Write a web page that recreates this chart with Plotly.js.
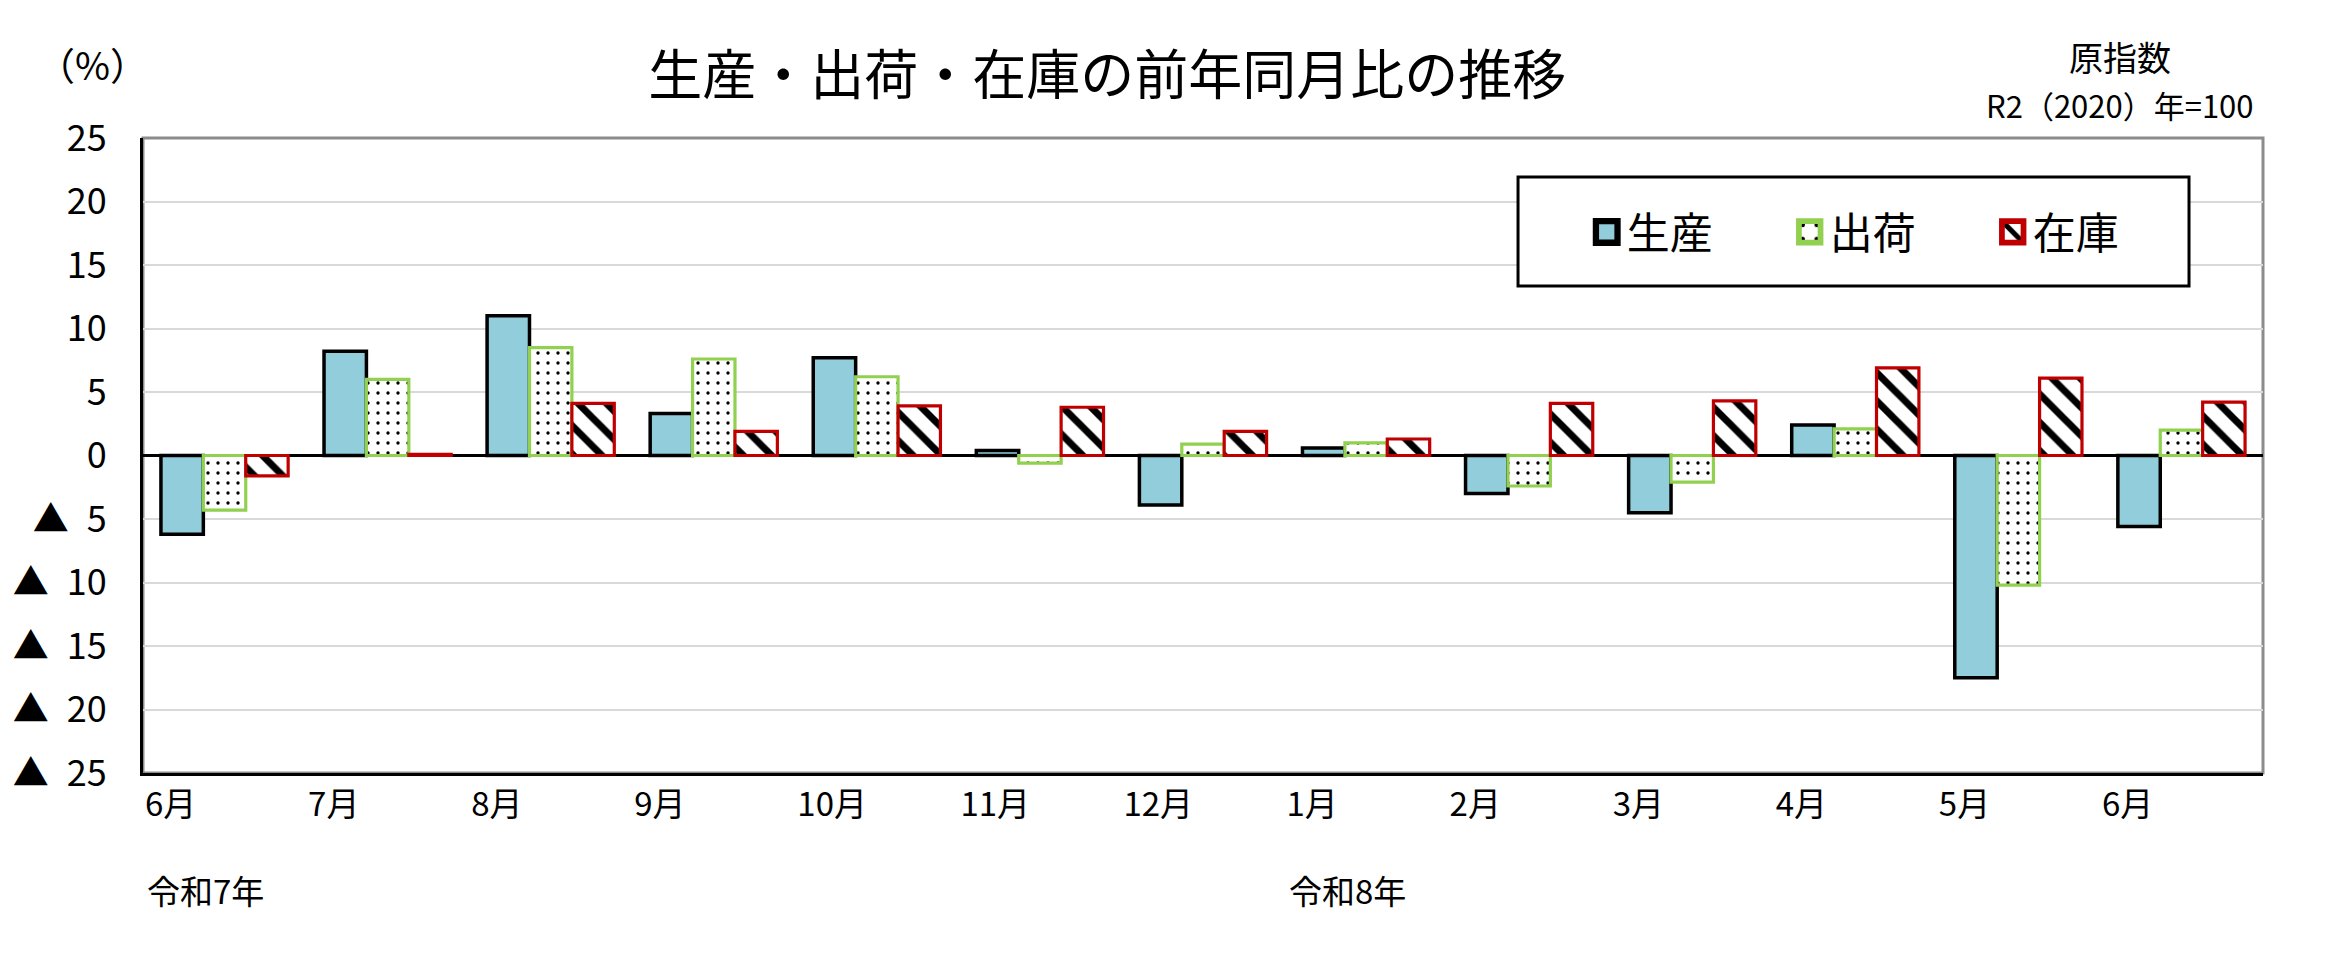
<!DOCTYPE html>
<html>
<head>
<meta charset="utf-8">
<script src="https://cdn.plot.ly/plotly-3.0.1.min.js"></script>
<style>
  body { margin: 0; background: #fff; }
  #chart { width: 2326px; height: 976px; }
</style>
</head>
<body>
<div id="chart"></div>
<script>
// 前年同月比 (%)  令和7年6月 ～ 令和8年6月
var months = ['6月', '7月', '8月', '9月', '10月', '11月', '12月', '1月', '2月', '3月', '4月', '5月', '6月'];
var production = [-6.2, 8.2, 11.0, 3.3, 7.7, 0.4, -3.9, 0.6, -3.0, -4.5, 2.4, -17.5, -5.6];
var shipments = [-4.3, 6.0, 8.5, 7.6, 6.2, -0.6, 0.9, 1.0, -2.4, -2.1, 2.1, -10.2, 2.0];
var inventory = [-1.6, 0.1, 4.1, 1.9, 3.9, 3.8, 1.9, 1.3, 4.1, 4.3, 6.9, 6.1, 4.2];
var yearLabels = ['令和7年', '令和8年'];
var yearStart = [0, 7];
var yTicks = [25, 20, 15, 10, 5, 0, -5, -10, -15, -20, -25];

var jp = "'Noto Sans CJK JP', sans-serif";

var idx = months.map(function (m, i) { return i });

var traces = [
    {
        name: '生産', x: idx, y: production, type: 'bar',
        marker: {color: '#92CDDC', line: {color: '#000000', width: 3.5}}
    },
    {
        name: '出荷', x: idx, y: shipments, type: 'bar',
        marker: {
            color: '#ffffff',
            line: {color: '#92D050', width: 3.2},
            pattern: {shape: '.', fgcolor: '#000000', bgcolor: '#ffffff', size: 10, solidity: 0.09, fillmode: 'replace'}
        }
    },
    {
        name: '在庫', x: idx, y: inventory, type: 'bar',
        marker: {
            color: '#ffffff',
            line: {color: '#C00000', width: 3.2},
            pattern: {shape: '\\', fgcolor: '#000000', bgcolor: '#ffffff', size: 20, solidity: 0.35, fillmode: 'replace'}
        }
    }
];

var annotations = [
    {text: '（%）', xref: 'paper', yref: 'paper', x: -0.024, y: 1.118, xanchor: 'center', yanchor: 'middle',
        showarrow: false, font: {family: jp, size: 38, color: '#000'}},
    {text: '原指数', xref: 'paper', yref: 'paper', x: 0.9325, y: 1.1276, xanchor: 'center', yanchor: 'middle',
        showarrow: false, font: {family: jp, size: 34, color: '#000'}},
    {text: 'R2（2020）年=100', xref: 'paper', yref: 'paper', x: 0.9325, y: 1.052, xanchor: 'center', yanchor: 'middle',
        showarrow: false, font: {family: jp, size: 31, color: '#000'}}
];
yearLabels.forEach(function (t, k) {
    annotations.push({
        text: t, xref: 'x', yref: 'paper', x: yearStart[k] - 0.5, xshift: 2, y: -0.184,
        xanchor: 'left', yanchor: 'middle', showarrow: false,
        font: {family: jp, size: 33, color: '#000'}
    });
});

var layout = {
    width: 2326, height: 976,
    margin: {l: 143, r: 63, t: 138, b: 203},
    paper_bgcolor: '#ffffff', plot_bgcolor: '#ffffff',
    font: {family: jp, color: '#000'},
    title: {
        text: '生産・出荷・在庫の前年同月比の推移',
        font: {family: jp, size: 54, color: '#000'},
        x: 0.476, xanchor: 'center', xref: 'container',
        y: 0.922, yanchor: 'middle', yref: 'container'
    },
    barmode: 'group', bargap: 0.22, bargroupgap: 0,
    showlegend: true,
    legend: {
        orientation: 'h', x: 0.681, xanchor: 'left', y: 0.852, yanchor: 'middle',
        bgcolor: 'rgba(0,0,0,0)', borderwidth: 0,
        entrywidth: 158, entrywidthmode: 'pixels',
        font: {family: jp, size: 43, color: '#000'}
    },
    xaxis: {
        type: 'linear', range: [-0.5, 12.5], fixedrange: true,
        tickvals: idx.map(function (i) { return i - 0.5 }), ticktext: months,
        ticklabelposition: 'outside right',
        ticks: 'outside', ticklen: 25, tickcolor: 'rgba(0,0,0,0)',
        tickfont: {family: jp, size: 33, color: '#000'},
        showgrid: false, zeroline: false,
        showline: true, linecolor: '#000000', linewidth: 3
    },
    yaxis: {
        range: [-25, 25], fixedrange: true,
        tickvals: yTicks,
        ticktext: yTicks.map(function (v) { return v < 0 ? '▲\u2002' + (-v) : String(v) }),
        ticks: 'outside', ticklen: 26, tickcolor: 'rgba(0,0,0,0)',
        tickfont: {family: jp, size: 36, color: '#000'},
        showgrid: true, gridcolor: '#d9d9d9', gridwidth: 2,
        zeroline: true, zerolinecolor: '#000000', zerolinewidth: 3,
        showline: true, linecolor: '#000000', linewidth: 3
    },
    shapes: [
        // plot area frame
        {type: 'rect', xref: 'paper', yref: 'paper', x0: 0, x1: 1, y0: 0, y1: 1,
            line: {color: '#8c8c8c', width: 3}, layer: 'below'},
        // legend box
        {type: 'rect', xref: 'paper', yref: 'paper', x0: 0.6486, x1: 0.9651, y0: 0.767, y1: 0.9386,
            fillcolor: '#ffffff', line: {color: '#000000', width: 3}, layer: 'above'}
    ],
    annotations: annotations
};

Plotly.newPlot(document.getElementById('chart'), traces, layout, {displayModeBar: false, staticPlot: true})
    .then(function (gd) {
        // legend swatches are bigger in the original
        gd.querySelectorAll('.legend .legendpoints path').forEach(function (p) {
            var t = p.getAttribute('transform') || '';
            p.setAttribute('transform', t + ' scale(1.8)');
        });
    });
</script>
</body>
</html>
